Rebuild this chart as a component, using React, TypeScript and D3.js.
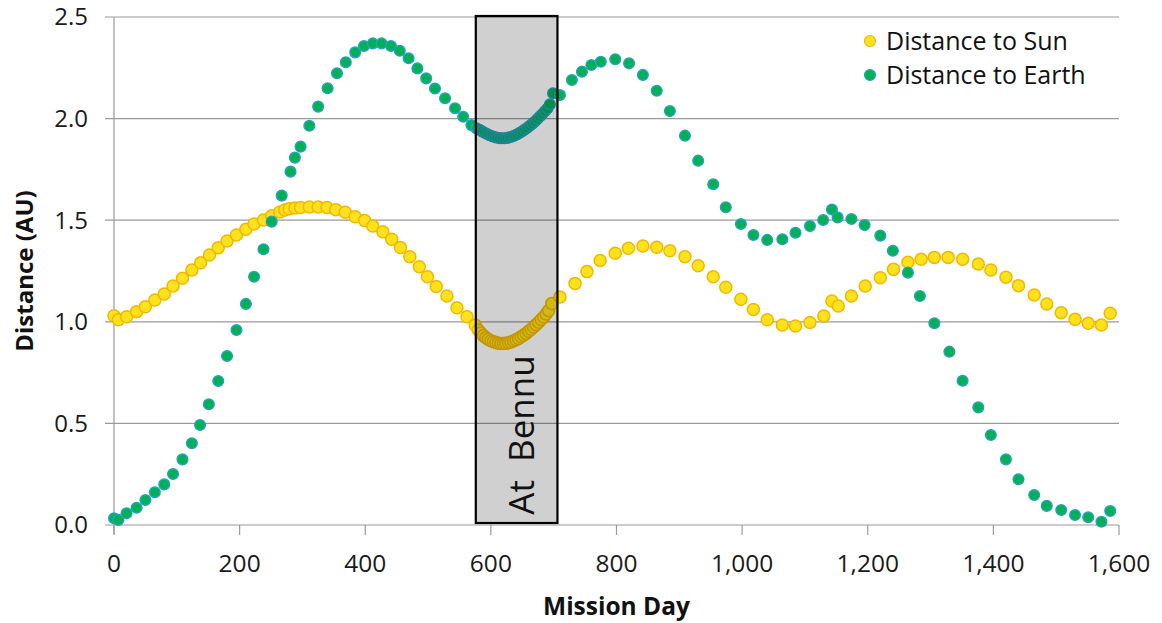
import { useEffect, useRef } from 'react';
import * as d3 from 'd3';

// [mission day, AU]
const distanceToSun: [number, number][] = [
  [0, 1.03], [7, 1.01], [20, 1.025], [36, 1.05], [50, 1.074], [65, 1.107], [80, 1.137], [94, 1.176],
  [109, 1.214], [124, 1.255], [138, 1.291], [152, 1.329], [166, 1.365], [180, 1.398], [195, 1.427],
  [210, 1.455], [223, 1.481], [238, 1.501], [251, 1.522], [264, 1.54], [272, 1.55], [279, 1.556],
  [288, 1.56], [297, 1.563], [311, 1.565], [325, 1.565], [339, 1.563], [353, 1.552], [368, 1.539],
  [384, 1.517], [399, 1.498], [412, 1.471], [428, 1.443], [442, 1.406], [456, 1.366], [471, 1.32],
  [486, 1.271], [499, 1.222], [513, 1.174], [530, 1.127], [546, 1.069], [562, 1.025], [575, 0.984],
  [580, 0.96], [584, 0.945], [588, 0.932], [592, 0.922], [596, 0.914], [600, 0.907], [604, 0.902],
  [608, 0.898], [612, 0.895], [616, 0.893], [620, 0.893], [624, 0.894], [628, 0.897], [632, 0.901],
  [636, 0.906], [640, 0.912], [644, 0.918], [648, 0.926], [652, 0.934], [656, 0.943], [660, 0.953],
  [664, 0.963], [668, 0.974], [672, 0.986], [676, 0.998], [680, 1.011], [684, 1.024], [688, 1.038],
  [692, 1.055], [697, 1.09], [710, 1.122], [734, 1.189], [753, 1.247], [774, 1.302], [798, 1.337],
  [819, 1.362], [842, 1.373], [864, 1.367], [885, 1.35], [909, 1.32], [930, 1.276], [954, 1.222],
  [974, 1.17], [998, 1.111], [1018, 1.061], [1040, 1.01], [1064, 0.984], [1085, 0.979], [1108, 0.997],
  [1130, 1.029], [1143, 1.102], [1153, 1.078], [1174, 1.127], [1196, 1.176], [1220, 1.217],
  [1241, 1.258], [1264, 1.293], [1285, 1.308], [1306, 1.317], [1328, 1.317], [1351, 1.308],
  [1376, 1.284], [1396, 1.255], [1420, 1.219], [1440, 1.178], [1465, 1.132], [1485, 1.088],
  [1508, 1.045], [1530, 1.012], [1551, 0.993], [1572, 0.984], [1586, 1.042],
];

const distanceToEarth: [number, number][] = [
  [0, 0.033], [7, 0.025], [20, 0.058], [36, 0.085], [50, 0.123], [65, 0.161], [80, 0.2], [94, 0.251],
  [109, 0.323], [124, 0.402], [137, 0.492], [151, 0.594], [166, 0.709], [180, 0.832], [195, 0.96],
  [210, 1.088], [223, 1.222], [238, 1.357], [251, 1.493], [267, 1.621], [281, 1.739], [288, 1.808],
  [297, 1.862], [311, 1.965], [325, 2.059], [340, 2.149], [355, 2.223], [369, 2.277], [384, 2.326],
  [398, 2.357], [412, 2.37], [426, 2.37], [441, 2.357], [455, 2.334], [469, 2.297], [483, 2.247],
  [497, 2.198], [511, 2.148], [527, 2.1], [543, 2.051], [556, 2.009], [569, 1.968], [577, 1.952],
  [582, 1.945], [586, 1.937], [590, 1.93], [594, 1.924], [598, 1.918], [602, 1.913], [606, 1.909],
  [610, 1.906], [614, 1.904], [618, 1.903], [622, 1.903], [626, 1.905], [630, 1.908], [634, 1.912],
  [638, 1.917], [642, 1.923], [646, 1.93], [650, 1.938], [654, 1.946], [658, 1.955], [662, 1.965],
  [666, 1.975], [670, 1.986], [674, 1.998], [678, 2.01], [682, 2.023], [686, 2.036], [690, 2.05],
  [694, 2.07], [699, 2.125], [710, 2.116], [729, 2.19], [745, 2.231], [760, 2.264], [775, 2.28],
  [798, 2.292], [820, 2.272], [842, 2.215], [864, 2.137], [885, 2.037], [909, 1.916], [930, 1.793],
  [954, 1.677], [974, 1.564], [998, 1.481], [1018, 1.427], [1040, 1.403], [1064, 1.406], [1085, 1.438],
  [1108, 1.471], [1129, 1.501], [1143, 1.553], [1152, 1.514], [1174, 1.506], [1195, 1.476],
  [1220, 1.424], [1240, 1.35], [1264, 1.242], [1283, 1.127], [1306, 0.993], [1330, 0.853],
  [1351, 0.71], [1376, 0.579], [1396, 0.443], [1420, 0.323], [1440, 0.225], [1465, 0.148],
  [1485, 0.094], [1508, 0.074], [1530, 0.049], [1551, 0.038], [1572, 0.016], [1586, 0.069],
];

const xTicks = [0, 200, 400, 600, 800, 1000, 1200, 1400, 1600];
const yTicks = [0, 0.5, 1, 1.5, 2, 2.5];
const bennuWindow = [576, 706];

const FONT = '"Open Sans", sans-serif';

export default function App() {
  const ref = useRef<SVGSVGElement>(null);

  useEffect(() => {
    if (!ref.current) return;
    const svg = d3.select(ref.current);
    svg.selectAll('*').remove();

    const left = 114, right = 1119, top = 17, bottom = 525;
    const x = d3.scaleLinear().domain([0, 1600]).range([left, right]);
    const y = d3.scaleLinear().domain([0, 2.5]).range([bottom, top]);

    // gridlines + y ticks
    svg.append('g')
      .selectAll('line')
      .data(yTicks)
      .join('line')
      .attr('x1', left - 9).attr('x2', right)
      .attr('y1', (d) => y(d)).attr('y2', (d) => y(d))
      .attr('stroke', '#9a9a9a').attr('stroke-width', 1.2);

    svg.append('line')
      .attr('x1', left).attr('x2', left).attr('y1', top).attr('y2', bottom + 9)
      .attr('stroke', '#9a9a9a').attr('stroke-width', 1.2);

    svg.append('g')
      .selectAll('line')
      .data(xTicks)
      .join('line')
      .attr('x1', (d) => x(d)).attr('x2', (d) => x(d))
      .attr('y1', bottom).attr('y2', bottom + 10)
      .attr('stroke', '#9a9a9a').attr('stroke-width', 1.2);

    svg.append('g')
      .selectAll('text')
      .data(yTicks)
      .join('text')
      .attr('x', 88).attr('y', (d) => y(d))
      .attr('dy', '0.35em')
      .attr('text-anchor', 'end')
      .attr('font-family', FONT).attr('font-size', 24).attr('fill', '#1a1a1a')
      .text((d) => d3.format('.1f')(d));

    svg.append('g')
      .selectAll('text')
      .data(xTicks)
      .join('text')
      .attr('x', (d) => x(d)).attr('y', 572)
      .attr('text-anchor', 'middle')
      .attr('font-family', FONT).attr('font-size', 24.5).attr('fill', '#1a1a1a')
      .text((d) => d3.format(',')(d));

    // axis titles
    svg.append('text')
      .attr('x', (left + right) / 2).attr('y', 615)
      .attr('text-anchor', 'middle')
      .attr('font-family', FONT).attr('font-size', 24.5).attr('font-weight', 700).attr('fill', '#111')
      .text('Mission Day');

    svg.append('text')
      .attr('transform', `translate(33,${(top + bottom) / 2}) rotate(-90)`)
      .attr('text-anchor', 'middle')
      .attr('font-family', FONT).attr('font-size', 24).attr('font-weight', 700).attr('fill', '#111')
      .text('Distance (AU)');

    // dots
    svg.append('g')
      .selectAll('circle')
      .data(distanceToSun)
      .join('circle')
      .attr('cx', (d) => x(d[0])).attr('cy', (d) => y(d[1])).attr('r', 6)
      .attr('fill', '#ffe21c').attr('stroke', '#f0b800').attr('stroke-width', 1.5);

    svg.append('g')
      .selectAll('circle')
      .data(distanceToEarth)
      .join('circle')
      .attr('cx', (d) => x(d[0])).attr('cy', (d) => y(d[1])).attr('r', 5.3)
      .attr('fill', '#00b055').attr('stroke', '#26a2bd').attr('stroke-width', 1.5);

    // "At Bennu" box
    const bx0 = x(bennuWindow[0]), bx1 = x(bennuWindow[1]);
    svg.append('rect')
      .attr('x', bx0).attr('y', y(2.5) - 1)
      .attr('width', bx1 - bx0).attr('height', y(0) - y(2.5) - 1)
      .attr('fill', 'rgba(0,0,0,0.185)').attr('stroke', '#000').attr('stroke-width', 2.2);

    svg.append('text')
      .attr('transform', `translate(${bx0 + 58},${y(0.443)}) rotate(-90)`)
      .attr('text-anchor', 'middle')
      .attr('font-family', FONT).attr('font-size', 35).attr('fill', '#111')
      .style('white-space', 'pre')
      .text('At  Bennu');

    // legend
    const legend = [
      { label: 'Distance to Sun', fill: '#ffe21c', stroke: '#f0b800' },
      { label: 'Distance to Earth', fill: '#00b055', stroke: '#26a2bd' },
    ];
    const lg = svg.append('g');
    legend.forEach((l, i) => {
      lg.append('circle')
        .attr('cx', 870).attr('cy', 41 + i * 34).attr('r', 5.5)
        .attr('fill', l.fill).attr('stroke', l.stroke).attr('stroke-width', 1.2);
      lg.append('text')
        .attr('x', 886).attr('y', 41 + i * 34)
        .attr('dy', '0.35em')
        .attr('font-family', FONT).attr('font-size', 25).attr('fill', '#111')
        .text(l.label);
    });
  }, []);

  return (
    <svg
      ref={ref}
      width={1162}
      height={623}
      style={{ position: 'absolute', left: 0, top: 0, background: '#fff' }}
      role="img"
      aria-label="Distance to Sun and Earth by mission day"
    />
  );
}
